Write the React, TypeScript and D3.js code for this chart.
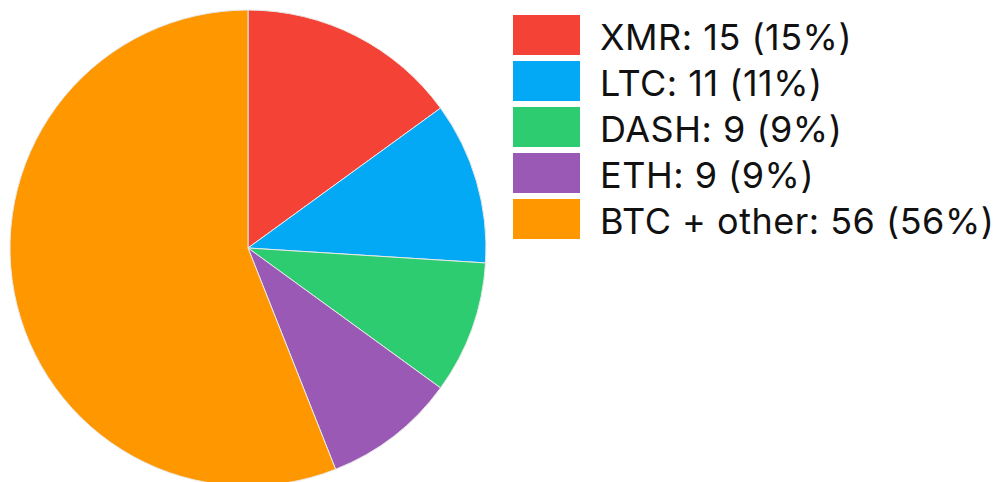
import React from "react";
import * as d3 from "d3";

const labels = ["XMR", "LTC", "DASH", "ETH", "BTC + other"];
const values = [15, 11, 9, 9, 56];
const colors = ["#F44336", "#03A9F4", "#2ECC71", "#9B59B6", "#FF9800"];

export default function App() {
  const width = 999;
  const height = 482;
  const cx = 248;
  const cy = 248;
  const r = 238;
  const total = d3.sum(values);
  const pie = d3.pie<number>().sort(null).value((d) => d)(values);
  const arc = d3.arc<d3.PieArcDatum<number>>().innerRadius(0).outerRadius(r);

  const legendX = 513;
  const legendY = 15;
  const rowH = 46;
  const boxW = 67;
  const boxH = 40;

  return (
    <svg
      width={width}
      height={height}
      style={{ position: "absolute", left: 0, top: 0, background: "#fff" }}
    >
      <g transform={`translate(${cx},${cy})`}>
        {pie.map((p, i) => (
          <path
            key={i}
            d={arc(p) || ""}
            fill={colors[i]}
            stroke="#e8e8e8"
            strokeWidth={1}
          />
        ))}
      </g>
      <g>
        {labels.map((l, i) => (
          <g key={l} transform={`translate(${legendX},${legendY + i * rowH})`}>
            <rect width={boxW} height={boxH} fill={colors[i]} />
            <text
              x={87}
              y={35}
              fontFamily="Inter, 'Liberation Sans', sans-serif"
              fontSize={36}
              letterSpacing={0.5}
              fill="#111"
            >
              {`${l}: ${values[i]} (${Math.round((values[i] / total) * 100)}%)`}
            </text>
          </g>
        ))}
      </g>
    </svg>
  );
}
